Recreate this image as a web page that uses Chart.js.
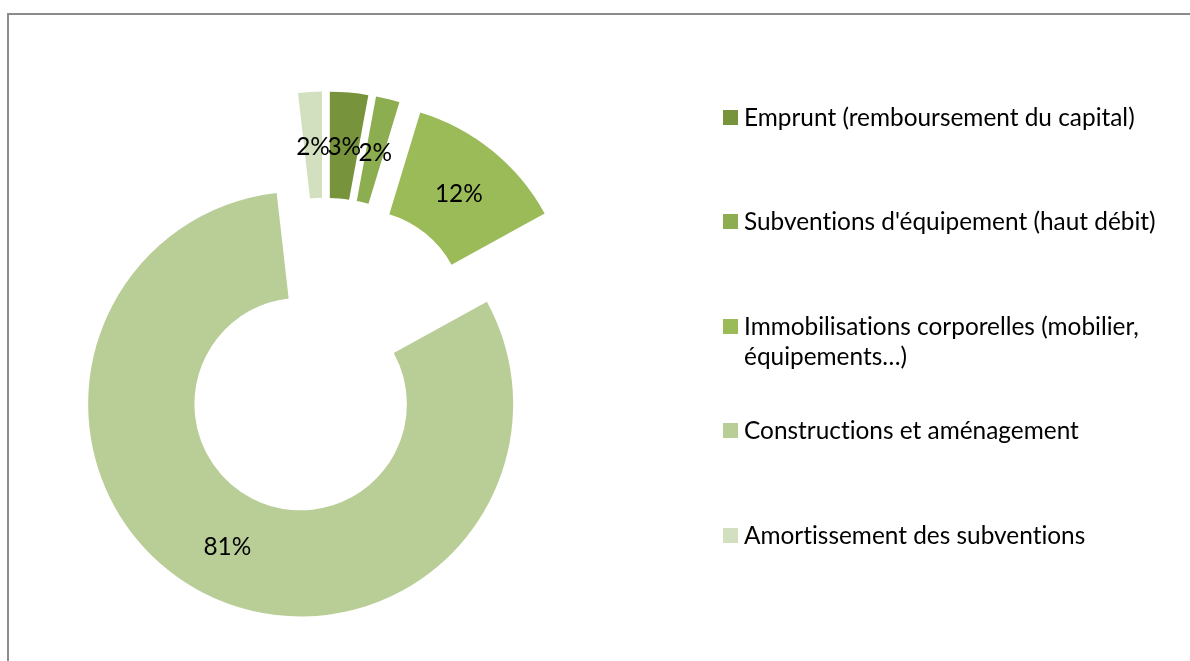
<!DOCTYPE html>
<html lang="fr">
<head>
    <meta charset="UTF-8">
    <title>Répartition des investissements</title>
    <script src="https://cdn.jsdelivr.net/npm/chart.js@4"></script>
    <style>
        html, body { margin: 0; padding: 0; background: #fff; }
        body { position: relative; width: 1190px; height: 661px; overflow: hidden; font-family: Lato, "Open Sans", sans-serif; }
        #frame { position: absolute; left: 7px; top: 13px; width: 1300px; height: 800px; border-top: 2px solid #8c8c8c; border-left: 2px solid #8c8c8c; }
        #pie { position: absolute; left: 0; top: 0; }
        #legend { position: absolute; left: 723px; top: 0; width: 460px; }
        .item { position: absolute; left: 0; display: flex; align-items: flex-start; }
        .swatch { flex: none; width: 15px; height: 15px; margin: 8px 6px 0 0; }
        .label { width: 425px; font-size: 24.4px; line-height: 30px; color: #000; font-variant-ligatures: none; }
    </style>
</head>
<body>
    <div id="frame"></div>
    <canvas id="pie" width="1190" height="661"></canvas>
    <div id="legend"></div>

    <script>
        // Data (share of each item, in %)
        const categories = [
            'Emprunt (remboursement du capital)',
            "Subventions d'équipement (haut débit)",
            'Immobilisations corporelles (mobilier, équipements…)',
            'Constructions et aménagement',
            'Amortissement des subventions'
        ];
        const shares = [2.9, 1.8, 12.3, 81.2, 1.8];
        const sliceColors = ['#77933c', '#8cad50', '#9bbb59', '#b9ce97', '#d3e0bf'];

        const EXPLODE = 53;        // distance each slice is pulled out
        const LABEL_FONT = '24.4px Lato, "Open Sans", sans-serif';

        // Draw every arc shifted outwards along its mid angle
        const explodePlugin = {
            id: 'explode',
            beforeDatasetDraw(chart, args) {
                const ctx = chart.ctx;
                args.meta.data.forEach(arc => {
                    const mid = (arc.startAngle + arc.endAngle) / 2;
                    ctx.save();
                    ctx.translate(Math.cos(mid) * EXPLODE, Math.sin(mid) * EXPLODE);
                    arc.draw(ctx);
                    ctx.restore();
                });
                return false;
            },
            afterDatasetsDraw(chart) {
                const ctx = chart.ctx;
                const meta = chart.getDatasetMeta(0);
                const total = shares.reduce((a, b) => a + b, 0);
                ctx.save();
                ctx.font = LABEL_FONT;
                ctx.fillStyle = '#000';
                ctx.textAlign = 'center';
                ctx.textBaseline = 'middle';
                meta.data.forEach((arc, i) => {
                    const mid = (arc.startAngle + arc.endAngle) / 2;
                    const r = (arc.innerRadius + arc.outerRadius) / 2 + EXPLODE;
                    const text = Math.round(shares[i] / total * 100) + '%';
                    ctx.fillText(text, arc.x + Math.cos(mid) * r, arc.y + Math.sin(mid) * r + 2);
                });
                ctx.restore();
            }
        };

        new Chart(document.getElementById('pie'), {
            type: 'doughnut',
            data: {
                labels: categories,
                datasets: [{
                    data: shares,
                    backgroundColor: sliceColors,
                    borderWidth: 0
                }]
            },
            options: {
                responsive: false,
                animation: false,
                cutout: '50%',
                layout: { padding: { left: 112.5, right: 652.5, top: 144.5, bottom: 91.5 } },
                plugins: {
                    legend: { display: false },
                    tooltip: { enabled: false }
                }
            },
            plugins: [explodePlugin]
        });

        // Legend on the right
        const legend = document.getElementById('legend');
        categories.forEach((name, i) => {
            const item = document.createElement('div');
            item.className = 'item';
            item.style.top = (101.5 + i * 104.6) + 'px';
            item.innerHTML = '<div class="swatch" style="background:' + sliceColors[i] + '"></div>' +
                '<div class="label">' + name + '</div>';
            legend.appendChild(item);
        });
    </script>
</body>
</html>
